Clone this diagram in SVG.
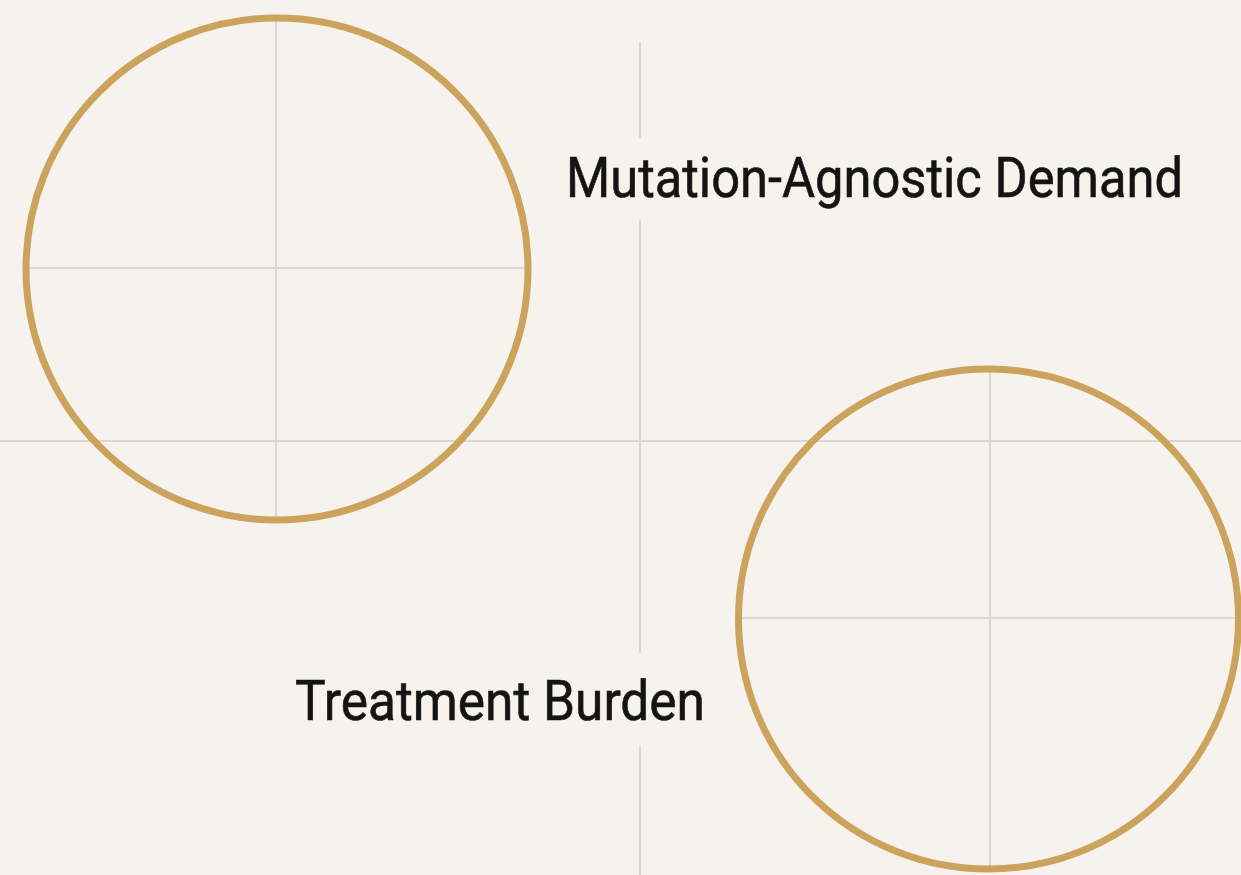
<svg xmlns="http://www.w3.org/2000/svg" width="1241" height="875" viewBox="0 0 1241 875">
  <style>
    .grid { stroke: #dcd8d1; stroke-width: 2; fill: none; }
    .ring { fill: none; stroke: #cca35d; stroke-width: 7; }
    .label { font-family: Roboto, "Liberation Sans", sans-serif; font-size: 55px; font-weight: 400; fill: #141414; }
  </style>
  <rect x="0" y="0" width="1241" height="875" fill="#f6f3ee"/>
  <g id="grid">
    <line class="grid" x1="0" y1="441" x2="1241" y2="441"/>
    <line class="grid" x1="640" y1="42" x2="640" y2="138"/>
    <line class="grid" x1="640" y1="220" x2="640" y2="653"/>
    <line class="grid" x1="640" y1="745" x2="640" y2="875"/>
  </g>
  <g id="circle-top-left">
    <line class="grid" x1="276" y1="20" x2="276" y2="518"/>
    <line class="grid" x1="28" y1="268" x2="526" y2="268"/>
    <circle class="ring" cx="277" cy="269" r="251"/>
  </g>
  <g id="circle-bottom-right">
    <line class="grid" x1="990" y1="371" x2="990" y2="868"/>
    <line class="grid" x1="742" y1="618" x2="1236" y2="618"/>
    <circle class="ring" cx="988.5" cy="619" r="250"/>
  </g>
  <g id="label-mutation">
    <text class="label" x="566" y="197" textLength="617" lengthAdjust="spacingAndGlyphs" stroke="#141414" stroke-width="0.6">Mutation-Agnostic Demand</text>
  </g>
  <g id="label-treatment">
    <text class="label" x="295" y="720" textLength="410" lengthAdjust="spacingAndGlyphs" stroke="#141414" stroke-width="0.6">Treatment Burden</text>
  </g>
</svg>
